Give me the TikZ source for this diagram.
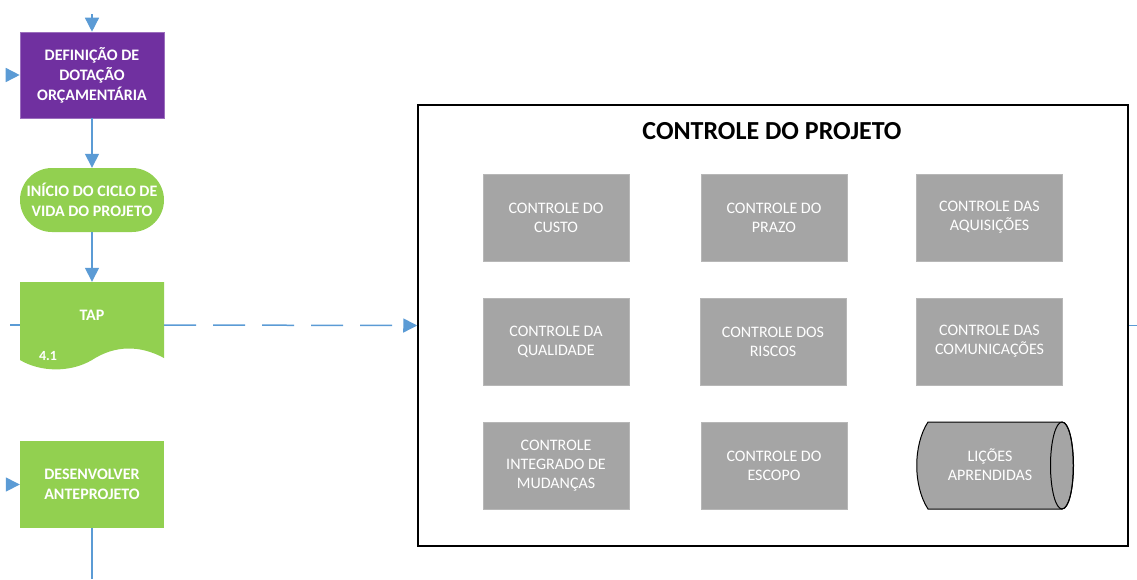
\documentclass[tikz,border=0pt]{standalone}
\usepackage{fontspec}
\setmainfont{Carlito}
\usetikzlibrary{arrows.meta}
\definecolor{cpurple}{HTML}{7030A0}
\definecolor{cgreen}{HTML}{92D050}
\definecolor{cgray}{HTML}{A5A5A5}
\definecolor{cblue}{HTML}{5B9BD5}
\tikzset{
  flow/.style={draw=cblue, line width=1.5pt, -{Triangle[length=14pt,width=14pt]}},
  flowline/.style={draw=cblue, line width=1.5pt},
  procbox/.style={rectangle, minimum width=144pt, minimum height=86pt, inner sep=2pt, align=center, text=white, font=\fontsize{16}{20}\selectfont\bfseries},
  graybox/.style={rectangle, fill=cgray, draw=cgray!80!white, line width=0.6pt, minimum width=146pt, minimum height=87pt, inner sep=2pt, align=center, text=white, font=\fontsize{16}{19}\selectfont},
}
\begin{document}
\begin{tikzpicture}[x=1pt,y=-1pt]
\useasboundingbox (0,0) rectangle (1137,579);
% left flow
\node[procbox, fill=cpurple, draw=cpurple!70!white, line width=0.6pt] (def) at (92,75) {DEFINIÇÃO DE\\DOTAÇÃO\\ORÇAMENTÁRIA};
\node[procbox, fill=cgreen, minimum height=64pt, rounded corners=32pt] (term) at (92,200) {INÍCIO DO CICLO DE\\VIDA DO PROJETO};
% TAP document
\fill[cgreen] (20,282) -- (164,282) -- (164,358) .. controls (140,345) and (115,345) .. (92,360) .. controls (70,373) and (40,372) .. (20,360) -- cycle;
\node[rectangle, minimum width=144pt, minimum height=86pt, inner sep=0pt] (tap) at (92,325) {};
\node[text=white, font=\fontsize{16}{20}\selectfont\bfseries] (taplabel) at (92,315) {TAP};
\node[text=white, font=\fontsize{14}{16}\selectfont\bfseries] (tapnum) at (48,356) {4.1};
\node[procbox, fill=cgreen, minimum height=87pt] (des) at (92,484.5) {DESENVOLVER\\ANTEPROJETO};
% coordinates
\coordinate (topin) at (92,14);
\coordinate (defin) at (7,75);
\coordinate (tapin) at (10,325);
\coordinate (desin) at (7,484.5);
\coordinate (botout) at (92,579);
\coordinate (rout) at (1137,325.5);
% connectors
\draw[flow] (topin) -- (def.north);
\draw[flow] (defin) -- (def.west);
\draw[flow] (def.south) -- (term.north);
\draw[flow] (term.south) -- (tap.north);
\draw[flowline] (tapin) -- (tap.west);
\draw[flow] (desin) -- (des.west);
\draw[flowline] (des.south) -- (botout);
% project box
\node[rectangle, draw=black, line width=1.5pt, minimum width=710pt, minimum height=441pt, inner sep=0pt] (proj) at (773,325.5) {};
\node[font=\fontsize{26}{30}\selectfont\bfseries] (title) at (772,131) {CONTROLE DO PROJETO};
\draw[flow, dash pattern=on 32pt off 17pt] (tap.east) -- (proj.west);
\draw[flowline] (proj.east) -- (rout);
% gray boxes
\node[graybox] (custo) at (556,217.5) {CONTROLE DO\\CUSTO};
\node[graybox] (prazo) at (774,217.5) {CONTROLE DO\\PRAZO};
\node[graybox] (aquis) at (989.5,217.5) {CONTROLE DAS\\AQUISIÇÕES};
\node[graybox] (qual) at (556,341.5) {CONTROLE DA\\QUALIDADE};
\node[graybox] (riscos) at (773,341.5) {CONTROLE DOS\\RISCOS};
\node[graybox] (comun) at (989.5,341.5) {CONTROLE DAS\\COMUNICAÇÕES};
\node[graybox] (mudancas) at (556,465.5) {CONTROLE\\INTEGRADO DE\\MUDANÇAS};
\node[graybox] (escopo) at (774,465.5) {CONTROLE DO\\ESCOPO};
% cylinder
\filldraw[fill=cgray, draw=black, line width=1pt] (928,422) -- (1062,422) .. controls (1077,422) and (1077,509) .. (1062,509) -- (928,509) .. controls (913,486) and (913,445) .. (928,422) -- cycle;
\draw[black, line width=1pt] (1062,465.5) ellipse [x radius=11.5pt, y radius=43.5pt];
\node[align=center, text=white, font=\fontsize{16}{19}\selectfont] (licoes) at (990,465) {LIÇÕES\\APRENDIDAS};
\end{tikzpicture}
\end{document}
